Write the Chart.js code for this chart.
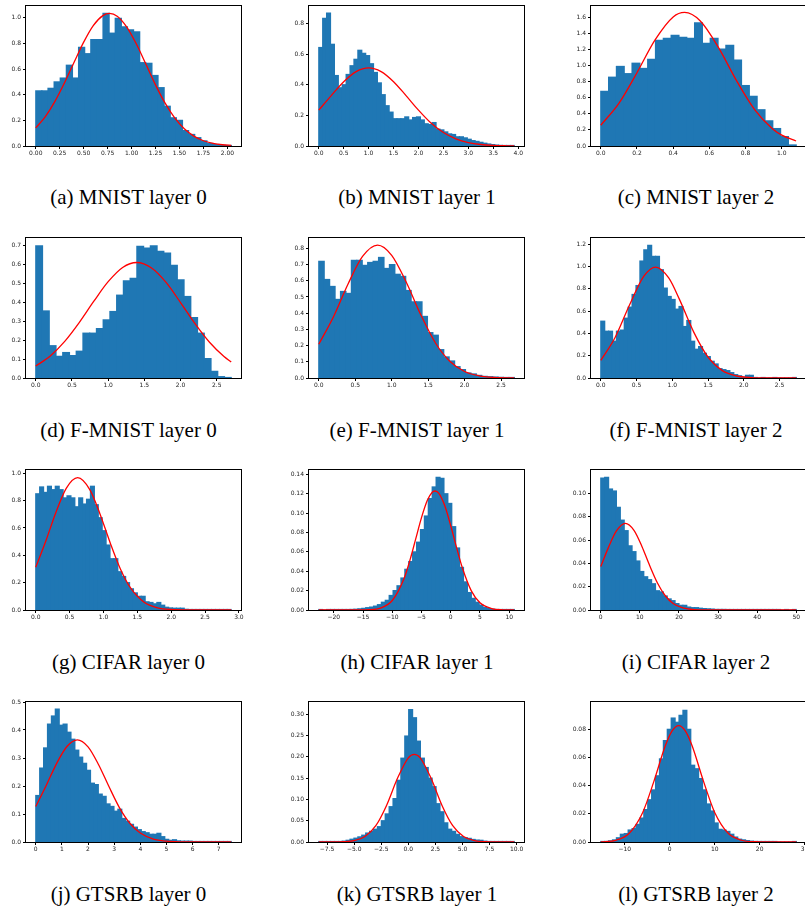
<!DOCTYPE html>
<html>
<head>
<meta charset="utf-8">
<script src="https://cdn.jsdelivr.net/npm/chart.js@4.4.1/dist/chart.umd.min.js"></script>
<style>
  html, body { margin: 0; padding: 0; background: #fff; overflow: hidden; width: 805px; height: 911px; position: relative; }
  canvas { position: absolute; }
  .cap { position: absolute; font-family: "Liberation Serif", "Times New Roman", serif; font-size: 21px; color: #000; white-space: nowrap; transform: translate(-50%, -50%); }
</style>
</head>
<body>
<script>
// ---- (a) MNIST layer 0
const aBinStart = 0, aBinWidth = 0.0638;
const aCounts = [0.43, 0.43, 0.45, 0.50, 0.53, 0.63, 0.53, 0.77, 0.72, 0.83, 0.83, 1.035, 0.88, 0.995, 0.93, 0.905, 0.89, 0.65, 0.645, 0.55, 0.455, 0.31, 0.22, 0.20, 0.12, 0.09, 0.065, 0.04, 0.02, 0.012, 0.005, 0.003];
const aCurveX = [0, 0.1, 0.2, 0.3, 0.4, 0.5, 0.6, 0.7, 0.77, 0.85, 0.95, 1.05, 1.15, 1.25, 1.35, 1.45, 1.55, 1.65, 1.75, 1.85, 1.95, 2.04];
const aCurveY = [0.141, 0.229, 0.348, 0.493, 0.653, 0.810, 0.939, 1.017, 1.034, 1.012, 0.927, 0.795, 0.637, 0.477, 0.334, 0.219, 0.134, 0.077, 0.041, 0.021, 0.0097, 0.0046];
const aXTicks = [0, 0.25, 0.5, 0.75, 1, 1.25, 1.5, 1.75, 2];
const aYTicks = [0, 0.2, 0.4, 0.6, 0.8, 1.0];

// ---- (b) MNIST layer 1
const bBinStart = 0, bBinWidth = 0.0784;
const bCounts = [0.643, 0.833, 0.868, 0.664, 0.46, 0.38, 0.40, 0.467, 0.524, 0.566, 0.625, 0.605, 0.59, 0.537, 0.48, 0.412, 0.335, 0.263, 0.221, 0.178, 0.178, 0.178, 0.19, 0.17, 0.186, 0.19, 0.17, 0.145, 0.14, 0.153, 0.11, 0.105, 0.092, 0.079, 0.075, 0.06, 0.06, 0.053, 0.044, 0.035, 0.03, 0.024, 0.018, 0.013, 0.009, 0.006, 0.004, 0.003, 0.002, 0.001];
const bCurveX = [0, 0.25, 0.5, 0.75, 1.0, 1.25, 1.5, 1.75, 2.0, 2.25, 2.5, 2.75, 3.0, 3.25, 3.5, 3.75, 3.92];
const bCurveY = [0.234, 0.329, 0.420, 0.486, 0.51, 0.486, 0.420, 0.329, 0.234, 0.150, 0.088, 0.0466, 0.0224, 0.0098, 0.0039, 0.0014, 0.0007];
const bXTicks = [0, 0.5, 1, 1.5, 2, 2.5, 3, 3.5, 4];
const bYTicks = [0, 0.2, 0.4, 0.6, 0.8];

// ---- (c) MNIST layer 2
const cBinStart = 0, cBinWidth = 0.0432;
const cCounts = [0.68, 0.856, 0.99, 0.90, 1.03, 0.965, 1.078, 1.316, 1.34, 1.378, 1.353, 1.34, 1.533, 1.278, 1.34, 1.207, 1.253, 1.069, 0.752, 0.618, 0.451, 0.313, 0.217, 0.117, 0.013];
const cCurveX = [0, 0.1, 0.2, 0.3, 0.4, 0.463, 0.55, 0.65, 0.75, 0.85, 0.95, 1.0, 1.079];
const cCurveY = [0.258, 0.530, 0.912, 1.320, 1.606, 1.662, 1.556, 1.227, 0.813, 0.453, 0.212, 0.136, 0.062];
const cXTicks = [0, 0.2, 0.4, 0.6, 0.8, 1.0];
const cYTicks = [0, 0.2, 0.4, 0.6, 0.8, 1.0, 1.2, 1.4, 1.6];

// ---- (d) F-MNIST layer 0
const dBinStart = 0, dBinWidth = 0.0931;
const dCounts = [0.696, 0.353, 0.17, 0.114, 0.134, 0.118, 0.141, 0.236, 0.236, 0.26, 0.306, 0.35, 0.436, 0.512, 0.524, 0.693, 0.684, 0.696, 0.667, 0.658, 0.593, 0.517, 0.429, 0.318, 0.236, 0.102, 0.035, 0.007, 0.002];
const dCurveX = [0, 0.2, 0.4, 0.6, 0.8, 1.0, 1.2, 1.395, 1.6, 1.8, 2.0, 2.2, 2.4, 2.6, 2.7];
const dCurveY = [0.063, 0.116, 0.193, 0.292, 0.403, 0.507, 0.582, 0.608, 0.579, 0.503, 0.397, 0.286, 0.188, 0.113, 0.084];
const dXTicks = [0, 0.5, 1, 1.5, 2, 2.5];
const dYTicks = [0, 0.1, 0.2, 0.3, 0.4, 0.5, 0.6, 0.7];

// ---- (e) F-MNIST layer 1
const eBinStart = 0, eBinWidth = 0.0745;
const eCounts = [0.72, 0.608, 0.565, 0.485, 0.534, 0.522, 0.726, 0.726, 0.695, 0.713, 0.72, 0.744, 0.676, 0.70, 0.64, 0.627, 0.54, 0.47, 0.47, 0.38, 0.28, 0.264, 0.175, 0.13, 0.105, 0.07, 0.052, 0.031, 0.025, 0.016, 0.01, 0.008, 0.006, 0.004, 0.002, 0.002];
const eCurveX = [0, 0.2, 0.4, 0.6, 0.806, 1.0, 1.2, 1.4, 1.6, 1.8, 2.0, 2.2, 2.4, 2.68];
const eCurveY = [0.208, 0.377, 0.579, 0.750, 0.82, 0.757, 0.591, 0.389, 0.216, 0.102, 0.040, 0.0135, 0.0038, 0.0005];
const eXTicks = [0, 0.5, 1, 1.5, 2, 2.5];
const eYTicks = [0, 0.1, 0.2, 0.3, 0.4, 0.5, 0.6, 0.7, 0.8];

// ---- (f) F-MNIST layer 2
const fBinStart = 0, fBinWidth = 0.0547;
const fCounts = [0.51, 0.42, 0.42, 0.33, 0.42, 0.43, 0.537, 0.636, 0.75, 0.83, 1.05, 1.15, 1.19, 1.092, 1.092, 0.972, 0.807, 0.732, 0.705, 0.618, 0.642, 0.462, 0.516, 0.33, 0.258, 0.282, 0.222, 0.192, 0.15, 0.126, 0.084, 0.075, 0.066, 0.048, 0.03, 0.02, 0.008, 0.024, 0.024, 0.002, 0, 0.002, 0, 0, 0.002, 0, 0, 0, 0, 0.002];
const fCurveX = [0, 0.2, 0.4, 0.6, 0.768, 0.95, 1.1, 1.3, 1.5, 1.7, 1.9, 2.1, 2.4, 2.733];
const fCurveY = [0.158, 0.364, 0.653, 0.912, 0.996, 0.898, 0.706, 0.412, 0.187, 0.066, 0.018, 0.004, 0.0002, 0];
const fXTicks = [0, 0.5, 1, 1.5, 2, 2.5];
const fYTicks = [0, 0.2, 0.4, 0.6, 0.8, 1.0, 1.2];

// ---- (g) CIFAR layer 0
const gBinStart = 0, gBinWidth = 0.0577;
const gCounts = [0.85, 0.90, 0.86, 0.905, 0.88, 0.905, 0.88, 0.82, 0.835, 0.82, 0.755, 0.82, 0.775, 0.81, 0.905, 0.77, 0.675, 0.58, 0.475, 0.375, 0.375, 0.28, 0.245, 0.20, 0.155, 0.125, 0.10, 0.10, 0.06, 0.055, 0.045, 0.055, 0.035, 0.02, 0.015, 0.013, 0.013, 0.013, 0.005, 0.003, 0.002, 0.002, 0.001, 0.002, 0.001, 0.001, 0.001, 0.001, 0.001, 0.001];
const gCurveX = [0, 0.15, 0.3, 0.45, 0.619, 0.8, 0.95, 1.1, 1.25, 1.4, 1.6, 1.8, 2.0, 2.3, 2.887];
const gCurveY = [0.313, 0.507, 0.717, 0.890, 0.968, 0.879, 0.701, 0.490, 0.300, 0.161, 0.057, 0.016, 0.0035, 0.0002, 0];
const gXTicks = [0, 0.5, 1, 1.5, 2, 2.5, 3];
const gYTicks = [0, 0.2, 0.4, 0.6, 0.8, 1.0];

// ---- (h) CIFAR layer 1
const hBinStart = -22.57, hBinWidth = 0.669;
const hCounts = [0.0001, 0, 0.0001, 0.0001, 0.0002, 0.0002, 0.0003, 0.0004, 0.0006, 0.0008, 0.0012, 0.0017, 0.0024, 0.003, 0.004, 0.0055, 0.008, 0.010, 0.015, 0.020, 0.025, 0.033, 0.042, 0.05, 0.06, 0.07, 0.083, 0.097, 0.115, 0.127, 0.137, 0.136, 0.12, 0.11, 0.086, 0.064, 0.044, 0.029, 0.018, 0.012, 0.008, 0.005, 0.0025, 0.0015, 0.0008, 0.0004, 0.0002, 0.0001, 0.0001, 0.0001];
const hCurveX = [-22.57, -17, -14, -12, -10, -8, -7, -6, -5, -4, -3.2, -2.69, -2, -1, 0, 1, 2, 3.5, 5, 7, 9, 10.86];
const hCurveY = [0, 0, 0.0003, 0.002, 0.0098, 0.0323, 0.0509, 0.0731, 0.0953, 0.1132, 0.1213, 0.1228, 0.1201, 0.1073, 0.087, 0.0644, 0.0433, 0.020, 0.0074, 0.0014, 0.0002, 0];
const hXTicks = [-20, -15, -10, -5, 0, 5, 10];
const hYTicks = [0, 0.02, 0.04, 0.06, 0.08, 0.10, 0.12, 0.14];

// ---- (i) CIFAR layer 2
const iBinStart = 0, iBinWidth = 1.0;
const iCounts = [0.113, 0.1137, 0.1037, 0.102, 0.088, 0.077, 0.068, 0.055, 0.050, 0.042, 0.033, 0.0285, 0.026, 0.0225, 0.0165, 0.0155, 0.012, 0.0095, 0.008, 0.0055, 0.004, 0.004, 0.0025, 0.002, 0.002, 0.0015, 0.0012, 0.001, 0.0008, 0.0005, 0.0005, 0.0005, 0.0004, 0.0004, 0.0003, 0.0003, 0.0002, 0.0002, 0.0002, 0.0002, 0.0001, 0.0001, 0.0001, 0.0001, 0.0001, 0.0001, 0, 0.0001, 0, 0.0001];
const iCurveX = [0, 2, 4, 6.3, 8.5, 10.5, 12.5, 14.5, 16.5, 18.5, 21, 24, 30, 50];
const iCurveY = [0.0373, 0.0539, 0.0678, 0.0743, 0.0683, 0.0547, 0.0382, 0.0232, 0.0122, 0.0056, 0.00176, 0.0003, 0, 0];
const iXTicks = [0, 10, 20, 30, 40, 50];
const iYTicks = [0, 0.02, 0.04, 0.06, 0.08, 0.10];

// ---- (j) GTSRB layer 0
const jBinStart = 0, jBinWidth = 0.1496;
const jCounts = [0.166, 0.264, 0.336, 0.421, 0.45, 0.475, 0.417, 0.421, 0.392, 0.367, 0.328, 0.303, 0.281, 0.256, 0.21, 0.205, 0.171, 0.163, 0.136, 0.127, 0.11, 0.117, 0.084, 0.074, 0.063, 0.053, 0.044, 0.037, 0.033, 0.0275, 0.0275, 0.031, 0.019, 0.0095, 0.006, 0.008, 0.004, 0.003, 0.003, 0.003, 0.001, 0.001, 0.0005, 0.0005, 0.0005, 0.0003, 0.0003, 0.0002, 0.0002, 0.0002];
const jCurveX = [0, 0.4, 0.8, 1.2, 1.59, 2.0, 2.4, 2.8, 3.2, 3.6, 4.0, 4.5, 5.0, 5.5, 6.5, 7.48];
const jCurveY = [0.127, 0.202, 0.281, 0.342, 0.365, 0.340, 0.277, 0.198, 0.123, 0.067, 0.032, 0.0105, 0.0028, 0.0006, 0, 0];
const jXTicks = [0, 1, 2, 3, 4, 5, 6, 7];
const jYTicks = [0, 0.1, 0.2, 0.3, 0.4, 0.5];

// ---- (k) GTSRB layer 1
const kBinStart = -8.27, kBinWidth = 0.361;
const kCounts = [0.0001, 0.0001, 0.0002, 0.0003, 0.0005, 0.001, 0.002, 0.004, 0.0065, 0.009, 0.012, 0.016, 0.021, 0.025, 0.03, 0.036, 0.05, 0.066, 0.083, 0.102, 0.145, 0.197, 0.249, 0.311, 0.292, 0.237, 0.197, 0.175, 0.15, 0.13, 0.09, 0.071, 0.045, 0.03, 0.025, 0.018, 0.0125, 0.01, 0.0085, 0.006, 0.0045, 0.004, 0.002, 0.001, 0.0006, 0.0004, 0.0002, 0.0001, 0.0001, 0.0001];
const kCurveX = [-8.27, -7, -6, -5, -4, -3, -2, -1, 0, 0.55, 1.1, 2.1, 3.1, 4.1, 5.1, 6.1, 7.1, 8.5, 9.78];
const kCurveY = [0, 0.0001, 0.0007, 0.0034, 0.013, 0.0384, 0.0866, 0.1496, 0.1979, 0.206, 0.1979, 0.1496, 0.0866, 0.0384, 0.013, 0.0034, 0.0007, 0.0001, 0];
const kXTicks = [-7.5, -5, -2.5, 0, 2.5, 5, 7.5, 10];
const kYTicks = [0, 0.05, 0.10, 0.15, 0.20, 0.25, 0.30];

// ---- (l) GTSRB layer 2
const lBinStart = -15.33, lBinWidth = 0.87;
const lCounts = [0.0002, 0.0004, 0.0008, 0.0015, 0.003, 0.0055, 0.006, 0.0085, 0.0095, 0.0125, 0.017, 0.023, 0.030, 0.037, 0.047, 0.059, 0.072, 0.080, 0.088, 0.085, 0.090, 0.0935, 0.080, 0.0545, 0.052, 0.045, 0.037, 0.027, 0.022, 0.0135, 0.009, 0.0085, 0.0075, 0.0055, 0.0035, 0.002, 0.0015, 0.001, 0.0006, 0.0004, 0.0003, 0.0002, 0.0001, 0.0001, 0.0001, 0, 0, 0, 0, 0.0001];
const lCurveX = [-15.33, -12, -9, -6, -3.5, -1, 0.5, 2, 3.5, 5, 7.5, 10, 13, 16, 19, 22, 28.15];
const lCurveY = [0.00013, 0.00124, 0.0062, 0.021, 0.0432, 0.0681, 0.0787, 0.0826, 0.0787, 0.0681, 0.0432, 0.021, 0.0062, 0.00124, 0.00017, 0, 0];
const lXTicks = [-10, 0, 10, 20, 30];
const lYTicks = [0, 0.02, 0.04, 0.06, 0.08];

const captions = [
  "(a) MNIST layer 0", "(b) MNIST layer 1", "(c) MNIST layer 2",
  "(d) F-MNIST layer 0", "(e) F-MNIST layer 1", "(f) F-MNIST layer 2",
  "(g) CIFAR layer 0", "(h) CIFAR layer 1", "(i) CIFAR layer 2",
  "(j) GTSRB layer 0", "(k) GTSRB layer 1", "(l) GTSRB layer 2"
];

// panel setup (axis limits + label decimals)
const plots = [
  { start: aBinStart, width: aBinWidth, counts: aCounts, cx: aCurveX, cy: aCurveY, xt: aXTicks, yt: aYTicks, xr: [-0.102, 2.142], ymax: 1.092, xd: 2, yd: 1 },
  { start: bBinStart, width: bBinWidth, counts: bCounts, cx: bCurveX, cy: bCurveY, xt: bXTicks, yt: bYTicks, xr: [-0.196, 4.116], ymax: 0.914, xd: 1, yd: 1 },
  { start: cBinStart, width: cBinWidth, counts: cCounts, cx: cCurveX, cy: cCurveY, xt: cXTicks, yt: cYTicks, xr: [-0.054, 1.134], ymax: 1.742, xd: 1, yd: 1 },
  { start: dBinStart, width: dBinWidth, counts: dCounts, cx: dCurveX, cy: dCurveY, xt: dXTicks, yt: dYTicks, xr: [-0.135, 2.835], ymax: 0.737, xd: 1, yd: 1 },
  { start: eBinStart, width: eBinWidth, counts: eCounts, cx: eCurveX, cy: eCurveY, xt: eXTicks, yt: eYTicks, xr: [-0.134, 2.814], ymax: 0.864, xd: 1, yd: 1 },
  { start: fBinStart, width: fBinWidth, counts: fCounts, cx: fCurveX, cy: fCurveY, xt: fXTicks, yt: fYTicks, xr: [-0.137, 2.87], ymax: 1.257, xd: 1, yd: 1 },
  { start: gBinStart, width: gBinWidth, counts: gCounts, cx: gCurveX, cy: gCurveY, xt: gXTicks, yt: gYTicks, xr: [-0.144, 3.031], ymax: 1.024, xd: 1, yd: 1 },
  { start: hBinStart, width: hBinWidth, counts: hCounts, cx: hCurveX, cy: hCurveY, xt: hXTicks, yt: hYTicks, xr: [-24.24, 12.53], ymax: 0.1445, xd: 0, yd: 2 },
  { start: iBinStart, width: iBinWidth, counts: iCounts, cx: iCurveX, cy: iCurveY, xt: iXTicks, yt: iYTicks, xr: [-2.5, 52.5], ymax: 0.12, xd: 0, yd: 2 },
  { start: jBinStart, width: jBinWidth, counts: jCounts, cx: jCurveX, cy: jCurveY, xt: jXTicks, yt: jYTicks, xr: [-0.374, 7.854], ymax: 0.5, xd: 0, yd: 1 },
  { start: kBinStart, width: kBinWidth, counts: kCounts, cx: kCurveX, cy: kCurveY, xt: kXTicks, yt: kYTicks, xr: [-9.17, 10.68], ymax: 0.329, xd: 1, yd: 2 },
  { start: lBinStart, width: lBinWidth, counts: lCounts, cx: lCurveX, cy: lCurveY, xt: lXTicks, yt: lYTicks, xr: [-17.5, 30.3], ymax: 0.0994, xd: 0, yd: 2 }
];

// layout of the 3x4 grid
const colLeft = [26, 309, 591];
const rowTop = [6, 238, 470, 702];
const capX = [128.5, 417, 696];
const capY = [197, 430, 662, 894];
const AX_W = 215, AX_H = 140;
const PAD_L = 40, PAD_T = 4, PAD_R = 8, PAD_B = 18;

function fmt(v, d) {
  const s = Math.abs(v).toFixed(d);
  return v < -1e-9 ? "\u2212" + s : s;
}

// black box around the axes, like matplotlib spines
const frame = {
  id: "frame",
  afterDatasetsDraw(chart) {
    const { ctx, chartArea: a } = chart;
    ctx.save();
    ctx.strokeStyle = "#000";
    ctx.lineWidth = 1;
    ctx.strokeRect(a.left - 0.5, a.top - 0.5, a.right - a.left + 1, a.bottom - a.top + 1);
    ctx.restore();
  }
};

const tickFont = { family: "DejaVu Sans", size: 6 };

plots.forEach((p, i) => {
  const col = i % 3, row = Math.floor(i / 3);
  const w = AX_W + PAD_L + PAD_R, h = AX_H + PAD_T + PAD_B;
  const canvas = document.createElement("canvas");
  canvas.width = w;
  canvas.height = h;
  canvas.style.width = w + "px";
  canvas.style.height = h + "px";
  canvas.style.left = (colLeft[col] - PAD_L) + "px";
  canvas.style.top = (rowTop[row] - PAD_T) + "px";
  document.body.appendChild(canvas);

  const bars = p.counts.map((c, k) => ({ x: p.start + (k + 0.5) * p.width, y: c }));
  const curve = p.cx.map((x, k) => ({ x: x, y: p.cy[k] }));

  new Chart(canvas, {
    type: "bar",
    data: {
      datasets: [
        {
          type: "line",
          data: curve,
          borderColor: "#ff0000",
          borderWidth: 1.3,
          pointRadius: 0,
          cubicInterpolationMode: "monotone",
          fill: false,
          order: 0,
        },
        {
          type: "bar",
          data: bars,
          backgroundColor: "#1f77b4",
          borderWidth: 0,
          inflateAmount: 0.6,
          barPercentage: 1,
          categoryPercentage: 1,
          order: 1,
        },
      ],
    },
    options: {
      responsive: false,
      animation: false,
      events: [],
      layout: { padding: { left: 0, top: PAD_T, right: PAD_R, bottom: 0 }, autoPadding: false },
      plugins: { legend: { display: false }, tooltip: { enabled: false } },
      scales: {
        x: {
          type: "linear",
          bounds: "data",
          min: p.xr[0],
          max: p.xr[1],
          offset: false,
          afterBuildTicks: (s) => { s.ticks = p.xt.map((v) => ({ value: v })); },
          afterFit: (s) => { s.height = PAD_B; s.paddingLeft = 0; s.paddingRight = 0; },
          ticks: { callback: (v) => fmt(v, p.xd), font: tickFont, color: "#222", padding: 1, maxRotation: 0, autoSkip: false },
          grid: { display: true, drawOnChartArea: false, drawTicks: true, tickLength: 3, tickColor: "#000", offset: false },
          border: { display: false },
        },
        y: {
          type: "linear",
          bounds: "data",
          min: 0,
          max: p.ymax,
          afterBuildTicks: (s) => { s.ticks = p.yt.map((v) => ({ value: v })); },
          afterFit: (s) => { s.width = PAD_L; s.paddingTop = 0; s.paddingBottom = 0; },
          ticks: { callback: (v) => fmt(v, p.yd), font: tickFont, color: "#222", padding: 2, autoSkip: false },
          grid: { display: true, drawOnChartArea: false, drawTicks: true, tickLength: 3, tickColor: "#000" },
          border: { display: false },
        },
      },
    },
    plugins: [frame],
  });

  const cap = document.createElement("div");
  cap.className = "cap";
  cap.textContent = captions[i];
  cap.style.left = capX[col] + "px";
  cap.style.top = capY[row] + "px";
  document.body.appendChild(cap);
});
</script>
</body>
</html>
